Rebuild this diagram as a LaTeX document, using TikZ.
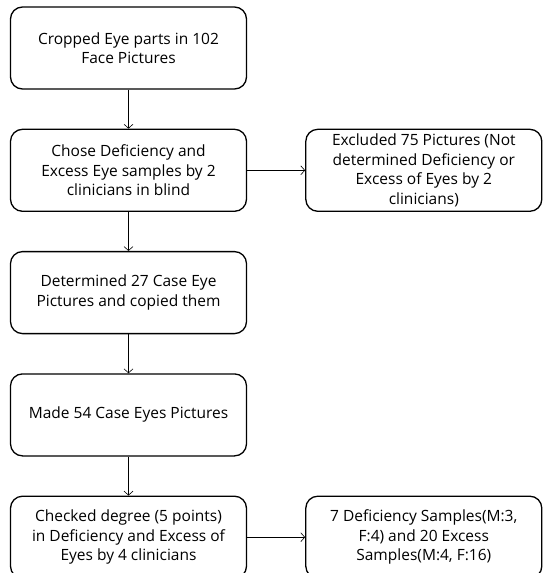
\documentclass[tikz,border=0pt]{standalone}
\usepackage{fontspec}
\setmainfont{Open Sans}
\usetikzlibrary{positioning,arrows.meta}

\begin{document}
\begin{tikzpicture}[x=1pt,y=1pt,
    box/.style={draw, line width=1.3pt, rounded corners=12pt, minimum width=236pt, minimum height=82pt,
        align=center, font=\fontsize{15.5}{19.5}\selectfont},
    arr/.style={-{Straight Barb[length=4pt,width=9pt]}, line width=0.6pt},
    node distance=39pt and 58pt]
    \useasboundingbox (0,0) rectangle (544,-573);

    % Main steps
    \node[box] (crop) at (128.5,-48) {Cropped Eye parts in 102\\Face Pictures};
    \node[box, below=of crop] (chose) {Chose Deficiency and\\Excess Eye samples by 2\\clinicians in blind};
    \node[box, below=of chose] (determ) {Determined 27 Case Eye\\Pictures and copied them};
    \node[box, below=of determ] (made) {Made 54 Case Eyes Pictures};
    \node[box, below=of made] (check) {Checked degree (5 points)\\in Deficiency and Excess of\\Eyes by 4 clinicians};

    % Side results
    \node[box, right=of chose] (excl) {Excluded 75 Pictures (Not\\determined Deficiency or\\Excess of Eyes by 2\\clinicians)};
    \node[box, right=of check] (samp) {7 Deficiency Samples(M:3,\\F:4) and 20 Excess\\Samples(M:4, F:16)};

    \draw[arr] (crop) -- (chose);
    \draw[arr] (chose) -- (determ);
    \draw[arr] (determ) -- (made);
    \draw[arr] (made) -- (check);
    \draw[arr] (chose) -- (excl);
    \draw[arr] (check) -- (samp);
\end{tikzpicture}
\end{document}
